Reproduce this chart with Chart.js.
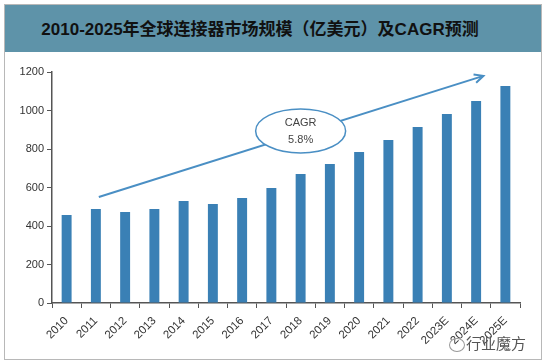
<!DOCTYPE html>
<html>
<head>
<meta charset="utf-8">
<script src="https://cdn.jsdelivr.net/npm/chart.js@4"></script>
<style>
  body { margin: 0; background: #fff; }
  #frame { position: absolute; left: 4px; top: 4px; width: 536px; height: 354px; border: 1px solid #b8b8b8; }
  #title { position: absolute; left: 0; top: 0; width: 510px; padding-right: 26px; height: 47px; background: #5e93a9;
    font: bold 17px "Liberation Sans", "Noto Sans CJK SC", sans-serif; color: #111;
    text-align: center; line-height: 50px; }
  #wrap { position: absolute; left: 0; top: 47px; width: 536px; height: 307px; }
  #mark { position: absolute; left: 466px; top: 332px; font: 15px "Noto Sans CJK SC", sans-serif; color: #555; }
  #icon { position: absolute; left: 449px; top: 338px; width: 14px; height: 12px; border: 1px solid #999; border-radius: 50%; }
</style>
</head>
<body>
<div id="frame">
  <div id="title">2010-2025年全球连接器市场规模（亿美元）及CAGR预测</div>
  <div id="wrap"><canvas id="chart"></canvas></div>
</div>
<div id="icon"></div>
<div id="mark">行业魔方</div>
<script>
const years = ['2010', '2011', '2012', '2013', '2014', '2015', '2016', '2017', '2018', '2019',
  '2020', '2021', '2022', '2023E', '2024E', '2025E'];
const marketSize = [457, 488, 473, 488, 530, 514, 545, 597, 670, 722, 784, 847, 914, 982, 1049, 1127];
const yTicks = [0, 200, 400, 600, 800, 1000, 1200];
const cagrText = ['CAGR', '5.8%'];

// trend arrow with the CAGR bubble, placed through the scales
const cagrArrow = {
  id: 'cagrArrow',
  afterDatasetsDraw(chart) {
    const { ctx, scales: { x, y } } = chart;
    const x0 = x.getPixelForValue(1.1), y0 = y.getPixelForValue(551);
    const x1 = x.getPixelForValue(14.25), y1 = y.getPixelForValue(1180);
    ctx.save();
    ctx.strokeStyle = '#4a8fc4';
    ctx.lineWidth = 2;
    ctx.beginPath();
    ctx.moveTo(x0, y0);
    ctx.lineTo(x1, y1);
    ctx.stroke();
    const ang = Math.atan2(y1 - y0, x1 - x0);
    ctx.beginPath();
    ctx.moveTo(x1 - 10 * Math.cos(ang - 0.45), y1 - 10 * Math.sin(ang - 0.45));
    ctx.lineTo(x1, y1);
    ctx.lineTo(x1 - 10 * Math.cos(ang + 0.45), y1 - 10 * Math.sin(ang + 0.45));
    ctx.stroke();
    const cx = x.getPixelForValue(8), cy = y.getPixelForValue(894);
    ctx.beginPath();
    ctx.ellipse(cx, cy, 45, 22, 0, 0, Math.PI * 2);
    ctx.fillStyle = '#fff';
    ctx.fill();
    ctx.lineWidth = 1.5;
    ctx.stroke();
    ctx.fillStyle = '#444';
    ctx.font = '11px "Liberation Sans", sans-serif';
    ctx.textAlign = 'center';
    ctx.textBaseline = 'middle';
    ctx.fillText(cagrText[0], cx, cy - 8);
    ctx.fillText(cagrText[1], cx, cy + 9);
    ctx.restore();
  }
};

new Chart(document.getElementById('chart'), {
  type: 'bar',
  data: {
    labels: years,
    datasets: [{
      data: marketSize,
      backgroundColor: '#3a80b5',
      barPercentage: 0.34,
      categoryPercentage: 1
    }]
  },
  options: {
    responsive: true,
    maintainAspectRatio: false,
    animation: false,
    layout: { padding: { top: 20, right: 21, left: 0, bottom: 0 } },
    plugins: { legend: { display: false }, tooltip: { enabled: false } },
    scales: {
      x: {
        grid: { drawOnChartArea: false, tickLength: 5, color: '#555', offset: true },
        border: { color: '#555', width: 1.5 },
        ticks: { color: '#333', font: { size: 11.5, family: 'Liberation Sans' }, minRotation: 45, maxRotation: 45, padding: 6 },
        afterFit(scale) { scale.height = 56; }
      },
      y: {
        min: 0,
        max: 1200,
        afterBuildTicks(scale) { scale.ticks = yTicks.map(v => ({ value: v })); },
        grid: { drawOnChartArea: false, tickLength: 5, color: '#555' },
        border: { color: '#555', width: 1.5 },
        ticks: { color: '#333', font: { size: 11, family: 'Liberation Sans' }, padding: 3, callback: v => String(v) },
        afterFit(scale) { scale.width = 47; }
      }
    }
  },
  plugins: [cagrArrow]
});
</script>
</body>
</html>
